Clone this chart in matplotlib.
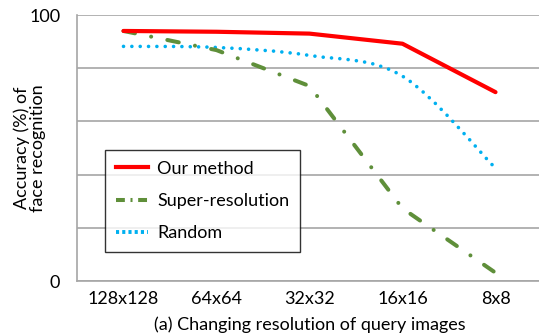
import matplotlib
matplotlib.use("Agg")
import matplotlib.pyplot as plt
from matplotlib.path import Path
from matplotlib.patches import PathPatch
from matplotlib.lines import Line2D

plt.rcParams['font.family'] = ['Lato', 'DejaVu Sans']

# Accuracy (%) for each query resolution
resolutions = ['128x128', '64x64', '32x32', '16x16', '8x8']
our_method = [94.0, 93.7, 93.0, 89.2, 71.0]
super_resolution = [94.0, 86.8, 73.3, 27.3, 3.1]
random_sel = [88.2, 87.8, 84.8, 77.0, 42.4]

RED = '#ff0000'
GREEN = '#5f8f3a'
BLUE = '#00b0f0'
GRID = '#a6a6a6'
FS = 13


def smooth_path(xs, ys):
    # Catmull-Rom style Bezier segments through the points (like a smoothed line)
    pts = list(zip(xs, ys))
    n = len(pts)
    verts = [pts[0]]
    codes = [Path.MOVETO]
    for i in range(n - 1):
        p0 = pts[max(i - 1, 0)]
        p1 = pts[i]
        p2 = pts[i + 1]
        p3 = pts[min(i + 2, n - 1)]
        c1 = (p1[0] + (p2[0] - p0[0]) / 6, p1[1] + (p2[1] - p0[1]) / 6)
        c2 = (p2[0] - (p3[0] - p1[0]) / 6, p2[1] - (p3[1] - p1[1]) / 6)
        verts += [c1, c2, p2]
        codes += [Path.CURVE4] * 3
    return Path(verts, codes)


fig = plt.figure(figsize=(5.39, 3.35), dpi=100)
ax = fig.add_axes([77 / 539, 54 / 335, 465 / 539, 266 / 335])

x = list(range(len(resolutions)))

ax.plot(x, our_method, color=RED, lw=3, solid_capstyle='round', zorder=4)
ax.plot(x, super_resolution, color=GREEN, lw=2.9, dash_capstyle='round',
        dashes=(2.9, 4.1, 0.01, 4.1), zorder=3)
ax.add_patch(PathPatch(smooth_path(x, random_sel), fill=False, edgecolor=BLUE,
                       lw=2.6, capstyle='round', linestyle=(0, (0.01, 2.3)),
                       zorder=2))

ax.set_xlim(-0.5, len(resolutions) - 0.5)
ax.set_ylim(0, 100)
ax.set_yticks([0, 20, 40, 60, 80, 100])
ax.set_yticklabels(['0', '', '', '', '', '100'])
ax.set_xticks(x)
ax.set_xticklabels(resolutions)
ax.tick_params(length=0, labelsize=FS)
ax.tick_params(axis='x', pad=7)
ax.tick_params(axis='y', pad=12)
ax.yaxis.grid(True, color=GRID, lw=1.2)
ax.set_axisbelow(True)
for side in ['top', 'right']:
    ax.spines[side].set_visible(False)
for side in ['left', 'bottom']:
    ax.spines[side].set_color(GRID)
    ax.spines[side].set_linewidth(1.2)

ax.set_ylabel('Accuracy (%) of\nface recognition', fontsize=FS, linespacing=1.0)
ax.yaxis.set_label_coords(-0.066, 0.5)
ax.set_xlabel('(a) Changing resolution of query images', fontsize=FS, labelpad=7)

handles = [
    Line2D([], [], color=RED, lw=3),
    Line2D([], [], color=GREEN, lw=2.9, dashes=(2.2, 1.4, 0.5, 1.4)),
    Line2D([], [], color=BLUE, lw=2.8, dashes=(0.8, 0.8)),
]
leg = ax.legend(handles, ['Our method', 'Super-resolution', 'Random'],
                loc='lower left', bbox_to_anchor=(28 / 465, 29 / 266),
                fontsize=FS, frameon=True, fancybox=False, edgecolor='black',
                handlelength=1.8, handletextpad=0.5, labelspacing=0.9,
                borderpad=0.6, borderaxespad=0)
leg.get_frame().set_linewidth(1.0)
leg.set_zorder(5)

fig.savefig('out.png', dpi=100)
